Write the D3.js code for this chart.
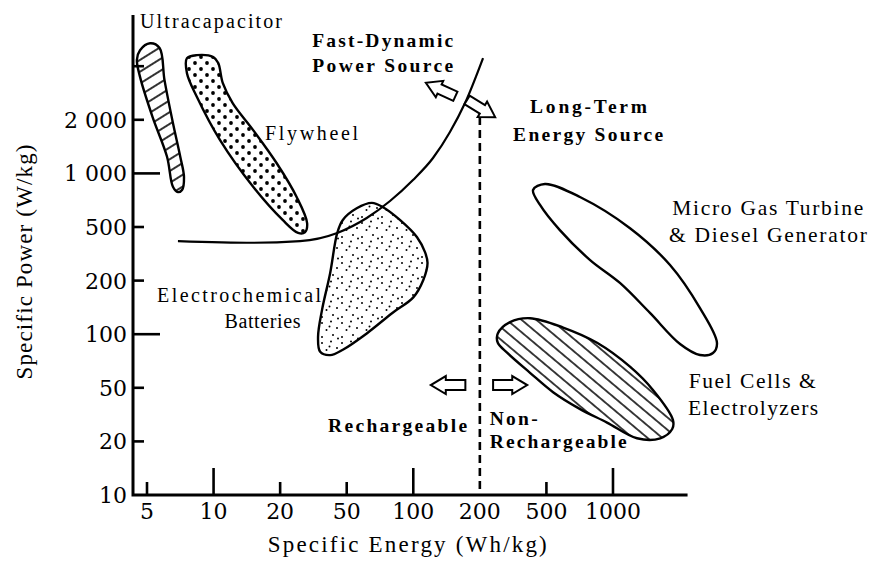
<!DOCTYPE html>
<html>
<head>
<meta charset="utf-8">
<title>Specific Power vs Specific Energy</title>
<script src="https://cdn.jsdelivr.net/npm/d3@7"></script>
<style>
  body { margin: 0; background: #fff; }
  svg { display: block; }
  text { fill: #000; }
  .note { font-size: 20px; }
  .note.big { font-size: 21.5px; }
  .note.bold { font-weight: bold; font-size: 19.5px; }
  .region { stroke: #000; stroke-width: 2.4px; }
</style>
</head>
<body>
<script>
// Tick values: the original plot spaces them evenly, not on a true log grid
var energyTicks = [5, 10, 20, 50, 100, 200, 500, 1000];
var energyLabels = ["5", "10", "20", "50", "100", "200", "500", "1000"];
var powerTicks = [10, 20, 50, 100, 200, 500, 1000, 2000, 5000];
var powerLabels = ["10", "20", "50", "100", "200", "500", "1 000", "2 000", ""];
var majorTicks = [10, 100, 1000];
var dividerEnergy = 200;      // rechargeable / non-rechargeable split (Wh/kg)
var dividerTop = 2100;        // W/kg where the dashed line stops

// Region outlines, [Wh/kg, W/kg]
var ultracapacitor = [[5.16, 7400], [5.7, 6830], [6.0, 3940], [6.55, 1918], [7.07, 1240], [7.35, 952],
  [7.2, 807], [6.9, 785], [6.55, 841], [6.16, 1240], [5.3, 2093], [4.65, 4164], [4.5, 5580], [4.65, 6570]];
var flywheel = [[7.58, 5740], [8.4, 6040], [9.97, 5840], [10.5, 5280], [11.0, 3760], [12.2, 2660],
  [15.1, 1750], [19.3, 1140], [25.1, 737], [29.0, 525], [28.1, 456], [25.6, 452], [20.7, 548],
  [15.1, 841], [10.7, 1537], [8.4, 2965], [7.58, 4440]];
var batteries = [[65, 683], [73, 646], [87, 548], [104, 420], [113, 325], [116, 270], [111, 202],
  [100, 161], [80.7, 132], [61.6, 101], [47.4, 81.8], [39.8, 76.3], [34.7, 79.6], [33.7, 96.6],
  [35.6, 137], [39.8, 227], [43.9, 452], [47.4, 548], [55.5, 637]];
var gasTurbine = [[416, 807], [490, 872], [709, 737], [1194, 490], [1811, 261], [2474, 140],
  [2953, 89.2], [2832, 78.4], [2474, 76.4], [2010, 88.1], [1470, 131.6], [1075, 194], [788, 284],
  [575, 474], [458, 665]];
var fuelCells = [[256, 101], [303, 117], [399, 123], [595, 109], [847, 89.5], [1197, 65.5],
  [1516, 48.2], [1866, 28.9], [1853, 24.7], [1636, 21.1], [1284, 21.1], [940, 27.6], [707, 34.9],
  [536, 46.4], [399, 60.7], [292, 78.5], [256, 89.5]];

// Boundary between fast-dynamic and long-term sources
var boundary = [[6.9, 393], [15.1, 382], [26.3, 393], [43.9, 452], [61.6, 562], [78.5, 700],
  [99.7, 918], [122.8, 1220], [146.5, 1708], [171.4, 2664], [209, 5750]];

// Block arrows: [tail Wh/kg, tail W/kg, tip Wh/kg, tip W/kg]
var arrows = [[155, 2992, 114, 3760], [175, 2809, 247, 2093], [172, 51.8, 120, 51.8], [240, 51.8, 384, 51.8]];

// Annotation text, anchored (left, baseline) in data units
var notes = [
  { text: "Ultracapacitor", e: 4.65, p: 9580, kind: "" },
  { text: "Flywheel", e: 17.1, p: 1537, kind: "" },
  { text: "Electrochemical", e: 5.55, p: 152, kind: "" },
  { text: "Batteries", e: 11.2, p: 109, kind: "" },
  { text: "Micro Gas Turbine", e: 1853, p: 583, kind: "big" },
  { text: "& Diesel Generator", e: 1790, p: 390, kind: "big" },
  { text: "Fuel Cells &", e: 2200, p: 50, kind: "big" },
  { text: "Electrolyzers", e: 2185, p: 31.3, kind: "big" },
  { text: "Fast-Dynamic", e: 31.1, p: 6946, kind: "bold" },
  { text: "Power Source", e: 31.1, p: 4526, kind: "bold" },
  { text: "Long-Term", e: 399, p: 2251, kind: "bold" },
  { text: "Energy Source", e: 316, p: 1516, kind: "bold" },
  { text: "Rechargeable", e: 38.7, p: 23.5, kind: "bold" },
  { text: "Non-", e: 229, p: 26.6, kind: "bold" },
  { text: "Rechargeable", e: 229, p: 18.4, kind: "bold" }
];
// printed widths of those texts (the scan is letter-spaced)
var noteWidths = [142, 93, 164, 76, 191, 198, 127, 130, 141, 141, 117, 150, 139, 48, 137];

var serif = "Liberation Serif, Tinos, Times New Roman, Times, Nimbus Roman, FreeSerif, Noto Serif, DejaVu Serif, serif";
var numFont = "DejaVu Serif, Bitstream Vera Serif, Liberation Serif, Noto Serif, serif";

var width = 869, height = 561;
var plotLeft = 133, plotTop = 15;
var x0 = 147, xStep = 66.57, y0 = 495, yStep = 53.6;

var x = d3.scaleLog()
    .domain(energyTicks)
    .range(energyTicks.map(function(d, i) { return x0 + i * xStep; }));
var y = d3.scaleLog()
    .domain(powerTicks)
    .range(powerTicks.map(function(d, i) { return y0 - i * yStep; }));
var plotRight = x(2000) + 8;

var svg = d3.select("body").append("svg")
    .attr("width", width)
    .attr("height", height)
    .attr("font-family", serif);
svg.append("rect").attr("width", width).attr("height", height).attr("fill", "#fff");

// Fill patterns
var defs = svg.append("defs");
function hatch(id, gap, angle, sw) {
  var p = defs.append("pattern").attr("id", id)
      .attr("patternUnits", "userSpaceOnUse")
      .attr("width", 20).attr("height", gap)
      .attr("patternTransform", "rotate(" + angle + ")");
  p.append("rect").attr("width", 20).attr("height", gap).attr("fill", "#fff");
  p.append("line").attr("x1", 0).attr("x2", 20).attr("y1", gap / 2).attr("y2", gap / 2)
      .attr("stroke", "#000").attr("stroke-width", sw);
}
hatch("hatchUp", 10, -32, 1.6);
hatch("hatchDown", 9.5, 40, 1.5);

var dots = defs.append("pattern").attr("id", "bigDots")
    .attr("patternUnits", "userSpaceOnUse").attr("width", 12).attr("height", 12);
dots.append("rect").attr("width", 12).attr("height", 12).attr("fill", "#fff");
dots.append("circle").attr("cx", 3).attr("cy", 3).attr("r", 1.9);
dots.append("circle").attr("cx", 9).attr("cy", 9).attr("r", 1.9);

var stipple = defs.append("pattern").attr("id", "stipple")
    .attr("patternUnits", "userSpaceOnUse").attr("width", 20).attr("height", 20);
stipple.append("rect").attr("width", 20).attr("height", 20).attr("fill", "#fff");
[[2, 3], [11, 1.5], [17, 8], [6.5, 10], [13, 15], [2, 17], [9.5, 6.5], [18, 18.5]].forEach(function(c) {
  stipple.append("circle").attr("cx", c[0]).attr("cy", c[1]).attr("r", 1);
});

// Regions
var outline = d3.line()
    .x(function(d) { return x(d[0]); })
    .y(function(d) { return y(d[1]); })
    .curve(d3.curveCatmullRomClosed.alpha(0.5));

var regions = [
  { pts: ultracapacitor, fill: "url(#hatchUp)" },
  { pts: flywheel, fill: "url(#bigDots)" },
  { pts: batteries, fill: "url(#stipple)" },
  { pts: gasTurbine, fill: "none" },
  { pts: fuelCells, fill: "url(#hatchDown)" }
];
svg.selectAll("path.region")
    .data(regions)
    .enter().append("path")
    .attr("class", "region")
    .attr("d", function(d) { return outline(d.pts); })
    .attr("fill", function(d) { return d.fill; });

// Boundary curve
svg.append("path")
    .attr("d", d3.line().x(function(d) { return x(d[0]); }).y(function(d) { return y(d[1]); })
        .curve(d3.curveMonotoneX)(boundary))
    .attr("fill", "none").attr("stroke", "#000").attr("stroke-width", 2.2);

// Dashed divider
svg.append("line")
    .attr("x1", x(dividerEnergy)).attr("x2", x(dividerEnergy))
    .attr("y1", y(dividerTop)).attr("y2", y(10))
    .attr("stroke", "#000").attr("stroke-width", 2.6).attr("stroke-dasharray", "8,5");

// Hollow block arrows
function arrowPath(L) {
  var bw = 5, hw = 9, hl = 15;
  return "M0," + (-bw) + "L" + (L - hl) + "," + (-bw) + "L" + (L - hl) + "," + (-hw) +
    "L" + L + ",0L" + (L - hl) + "," + hw + "L" + (L - hl) + "," + bw + "L0," + bw + "Z";
}
svg.selectAll("path.arrow")
    .data(arrows)
    .enter().append("path")
    .attr("class", "arrow")
    .attr("d", function(d) {
      var dx = x(d[2]) - x(d[0]), dy = y(d[3]) - y(d[1]);
      return arrowPath(Math.sqrt(dx * dx + dy * dy));
    })
    .attr("transform", function(d) {
      var dx = x(d[2]) - x(d[0]), dy = y(d[3]) - y(d[1]);
      return "translate(" + x(d[0]) + "," + y(d[1]) + ") rotate(" + (Math.atan2(dy, dx) * 180 / Math.PI) + ")";
    })
    .attr("fill", "#fff").attr("stroke", "#000").attr("stroke-width", 2);

// Annotations
svg.selectAll("text.note")
    .data(notes)
    .enter().append("text")
    .attr("class", function(d) { return "note " + d.kind; })
    .attr("font-family", serif)
    .attr("x", function(d) { return x(d.e); })
    .attr("y", function(d) { return y(d.p); })
    .attr("textLength", function(d, i) { return noteWidths[i]; })
    .attr("lengthAdjust", "spacing")
    .text(function(d) { return d.text; });

// Axes
var axes = svg.append("g").attr("stroke", "#000").attr("fill", "none");
axes.append("path")
    .attr("d", "M" + plotLeft + "," + plotTop + "V" + y(10) + "H" + plotRight)
    .attr("stroke-width", 3);

axes.selectAll("line.ytick")
    .data(powerTicks.slice(1))
    .enter().append("line")
    .attr("x1", plotLeft)
    .attr("x2", function(d) { return plotLeft + (majorTicks.indexOf(d) >= 0 ? 27 : 11); })
    .attr("y1", function(d) { return y(d); })
    .attr("y2", function(d) { return y(d); })
    .attr("stroke-width", 2.6);

axes.selectAll("line.xtick")
    .data(energyTicks.filter(function(d) { return d !== dividerEnergy; }))
    .enter().append("line")
    .attr("x1", function(d) { return x(d); })
    .attr("x2", function(d) { return x(d); })
    .attr("y1", y(10))
    .attr("y2", function(d) { return y(10) - (majorTicks.indexOf(d) >= 0 ? 27 : 13); })
    .attr("stroke-width", 2.6);

svg.selectAll("text.ylab")
    .data(powerTicks)
    .enter().append("text")
    .attr("font-family", numFont)
    .attr("font-size", "22px")
    .attr("x", plotLeft - 6)
    .attr("y", function(d) { return y(d); })
    .attr("dy", "0.36em")
    .attr("text-anchor", "end")
    .text(function(d, i) { return powerLabels[i]; });

svg.selectAll("text.xlab")
    .data(energyTicks)
    .enter().append("text")
    .attr("font-family", numFont)
    .attr("font-size", "22px")
    .attr("x", function(d) { return x(d); })
    .attr("y", y(10) + 24)
    .attr("text-anchor", "middle")
    .text(function(d, i) { return energyLabels[i]; });

// Axis titles
svg.append("text")
    .attr("x", (x(20) - 12 + x(500)) / 2)
    .attr("y", 552)
    .attr("text-anchor", "middle")
    .attr("font-size", "23px")
    .attr("textLength", 279).attr("lengthAdjust", "spacing")
    .text("Specific Energy (Wh/kg)");

svg.append("text")
    .attr("transform", "translate(32," + 262 + ") rotate(-90)")
    .attr("text-anchor", "middle")
    .attr("font-size", "23px")
    .attr("textLength", 235).attr("lengthAdjust", "spacing")
    .text("Specific Power (W/kg)");
</script>
</body>
</html>
